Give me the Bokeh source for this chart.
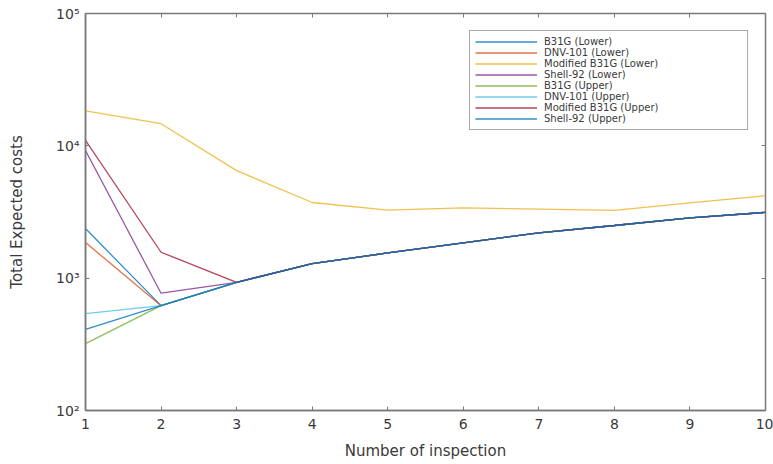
from bokeh.plotting import figure
from bokeh.models import (Legend, LegendItem, CustomJSTickFormatter, FixedTicker,
                          LinearAxis, LogAxis, Range1d)
from bokeh.embed import file_html
from bokeh.resources import INLINE

# ---- data ----
inspections = [1, 2, 3, 4, 5, 6, 7, 8, 9, 10]

b31g_lower = [2370, 620, 930, 1290, 1550, 1850, 2200, 2500, 2860, 3140]
dnv101_lower = [1860, 620, 930, 1290, 1550, 1850, 2200, 2500, 2860, 3140]
mod_b31g_lower = [18400, 14700, 6500, 3730, 3270, 3400, 3320, 3250, 3700, 4200]
shell92_lower = [9200, 770, 930, 1290, 1550, 1850, 2200, 2500, 2860, 3140]
b31g_upper = [320, 620, 930, 1290, 1550, 1850, 2200, 2500, 2860, 3140]
dnv101_upper = [540, 620, 930, 1290, 1550, 1850, 2200, 2500, 2860, 3140]
mod_b31g_upper = [11000, 1570, 930, 1290, 1550, 1850, 2200, 2500, 2860, 3140]
shell92_upper = [410, 620, 930, 1290, 1550, 1850, 2200, 2500, 2860, 3140]

series_names = ["B31G (Lower)", "DNV-101 (Lower)", "Modified B31G (Lower)", "Shell-92 (Lower)",
                "B31G (Upper)", "DNV-101 (Upper)", "Modified B31G (Upper)", "Shell-92 (Upper)"]
series_values = [b31g_lower, dnv101_lower, mod_b31g_lower, shell92_lower,
                 b31g_upper, dnv101_upper, mod_b31g_upper, shell92_upper]
series_colors = ["#0072BD", "#D95319", "#EDB120", "#7E2F8E",
                 "#77AC30", "#4DBEEE", "#A2142F", "#0072BD"]

x_ticks = [1, 2, 3, 4, 5, 6, 7, 8, 9, 10]
y_ticks = [100, 1000, 10000, 100000]

FONT = "DejaVu Sans"
AXIS_COL = "#7a7a7a"
TEXT_COL = "#3a3a3a"

p = figure(width=773, height=464, output_backend="svg", toolbar_location=None,
           y_axis_type="log", x_range=Range1d(1, 10), y_range=Range1d(100, 100000),
           min_border_left=85, min_border_right=8, min_border_top=13, min_border_bottom=54)
p.grid.visible = False
p.outline_line_color = AXIS_COL
p.outline_line_width = 1.5
p.background_fill_color = "white"
p.border_fill_color = "white"

items = []
for name, vals, col in zip(series_names, series_values, series_colors):
    r = p.line(inspections, vals, line_color=col, line_width=1.3, line_alpha=0.8)
    items.append(LegendItem(label=name, renderers=[r]))

sup_fmt = CustomJSTickFormatter(code="""
const sup = {"0":"\\u2070","1":"\\u00b9","2":"\\u00b2","3":"\\u00b3","4":"\\u2074","5":"\\u2075","6":"\\u2076","7":"\\u2077","8":"\\u2078","9":"\\u2079","-":"\\u207b"};
const e = Math.round(Math.log10(tick));
return "10" + String(e).split("").map(c => sup[c]).join("");
""")

xa = p.xaxis[0]
xa.ticker = FixedTicker(ticks=x_ticks)
xa.axis_label = "Number of inspection"
ya = p.yaxis[0]
ya.ticker = FixedTicker(ticks=y_ticks)
ya.formatter = sup_fmt
ya.axis_label = "Total Expected costs"

for ax in (xa, ya):
    ax.axis_line_color = AXIS_COL
    ax.axis_line_width = 1.5
    ax.major_tick_line_color = AXIS_COL
    ax.major_tick_in = 4
    ax.major_tick_out = 0
    ax.minor_tick_line_color = None
    ax.major_label_text_font = FONT
    ax.major_label_text_font_size = "14px"
    ax.major_label_text_color = TEXT_COL
    ax.axis_label_text_font = FONT
    ax.axis_label_text_font_size = "15px"
    ax.axis_label_text_font_style = "normal"
    ax.axis_label_text_color = TEXT_COL

xa.major_label_standoff = 8
xa.axis_label_standoff = 10
ya.major_label_standoff = 6
ya.axis_label_standoff = 27

# top / right ticks (box style), no labels
blank = CustomJSTickFormatter(code="return '';")
top = LinearAxis(ticker=FixedTicker(ticks=x_ticks), formatter=blank,
                 major_label_text_font_size="1px", major_label_text_color=None,
                 major_label_standoff=0, major_tick_in=4, major_tick_out=0,
                 minor_tick_line_color=None, axis_line_color=None,
                 major_tick_line_color=AXIS_COL)
p.add_layout(top, "above")
right = LogAxis(ticker=FixedTicker(ticks=y_ticks), formatter=blank,
                major_label_text_font_size="1px", major_label_text_color=None,
                major_label_standoff=0, major_tick_in=4, major_tick_out=0,
                minor_tick_line_color=None, axis_line_color=None,
                major_tick_line_color=AXIS_COL)
p.add_layout(right, "right")

legend = Legend(items=items, location="top_right", margin=17,
                label_text_font=FONT, label_text_font_size="10px",
                label_text_color=TEXT_COL,
                label_height=11, glyph_height=11, glyph_width=62,
                label_standoff=7, label_width=198, spacing=0, padding=5,
                border_line_color="#555555", border_line_width=1.2,
                background_fill_alpha=1.0)
p.add_layout(legend)

open("out.html", "w").write(file_html(p, INLINE))
